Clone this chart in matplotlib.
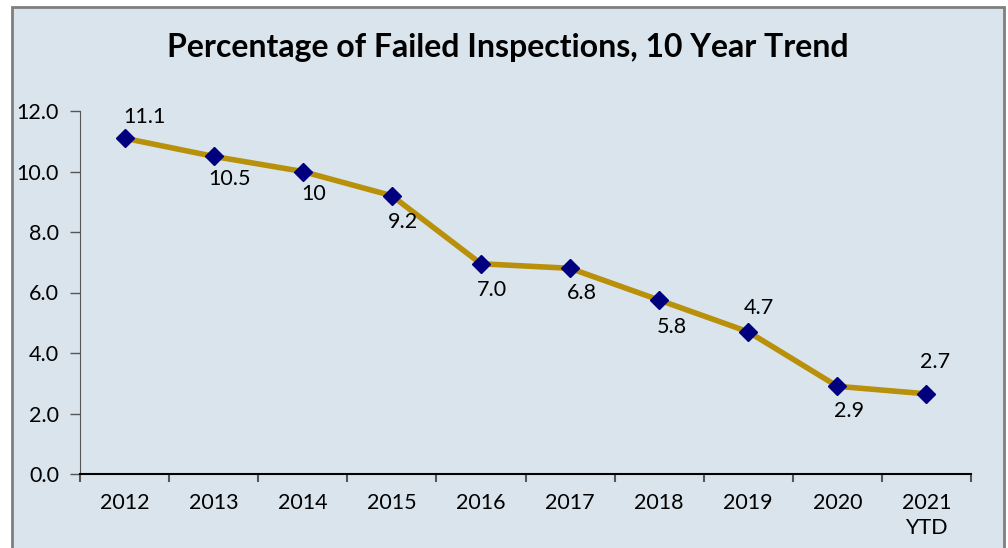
import matplotlib
matplotlib.use("Agg")
import matplotlib.pyplot as plt
from matplotlib.patches import Rectangle

years = ["2012", "2013", "2014", "2015", "2016", "2017", "2018", "2019", "2020", "2021\nYTD"]
values = [11.1, 10.5, 10.0, 9.2, 6.95, 6.8, 5.75, 4.7, 2.9, 2.65]
labels = ["11.1", "10.5", "10", "9.2", "7.0", "6.8", "5.8", "4.7", "2.9", "2.7"]
yticks = [0, 2, 4, 6, 8, 10, 12]

# label offsets in pixels (dx, dy)
label_dx = [20, 16, 11, 11, 11, 12, 13, 11, 12, 9]
label_dy = [21, -23, -23, -26, -26, -25, -27, 24, -25, 32]

plt.rcParams['font.family'] = ['Lato', 'DejaVu Sans']

bg = "#dae4ec"
fig = plt.figure(figsize=(10.08, 5.48), dpi=100)
fig.patch.set_facecolor("white")
fig.patches.append(Rectangle((12/1008, -0.05), (1004-12)/1008, 1.05 - 7/548,
                             transform=fig.transFigure, facecolor=bg,
                             edgecolor="#7f7f7f", linewidth=2, zorder=-5))

ax = fig.add_axes([80/1008, 1 - 474/548, (971-80)/1008, (474-111)/548])
ax.set_zorder(2)
ax.set_facecolor(bg)
x = list(range(len(years)))
ax.plot(x, values, color="#b8900a", linewidth=4, zorder=2)
ax.plot(x, values, linestyle="none", marker="D", markersize=9,
        color="#00007f", zorder=3)

for xi, v, lab, dx, dy in zip(x, values, labels, label_dx, label_dy):
    ax.annotate(lab, (xi, v), xytext=(dx, dy), textcoords="offset pixels",
                ha="center", va="center", fontsize=15.5, color="black")

ax.set_xlim(-0.5, len(years) - 0.5)
ax.set_ylim(0, 12)
ax.set_yticks(yticks)
ax.set_yticklabels([f"{t:.1f}" for t in yticks], fontsize=15.5)
ax.set_xticks(x)
ax.set_xticklabels(years, fontsize=15.5, linespacing=1.3)
ax.set_xticks([i - 0.5 for i in range(len(years) + 1)], minor=True)
ax.tick_params(axis="x", which="major", length=0, pad=14)
ax.tick_params(axis="x", which="minor", length=6, color="#555555", width=1.5)
ax.tick_params(axis="y", length=7, color="#555555", width=1, pad=8)
for s in ["top", "right"]:
    ax.spines[s].set_visible(False)
ax.spines["left"].set_color("#555555")
ax.spines["bottom"].set_color("black")
ax.spines["bottom"].set_linewidth(1.5)

fig.text(508/1008, 1 - 47/548, "Percentage of Failed Inspections, 10 Year Trend",
         ha="center", va="center", fontsize=23, fontweight="bold")

fig.savefig("out.png", dpi=100)
